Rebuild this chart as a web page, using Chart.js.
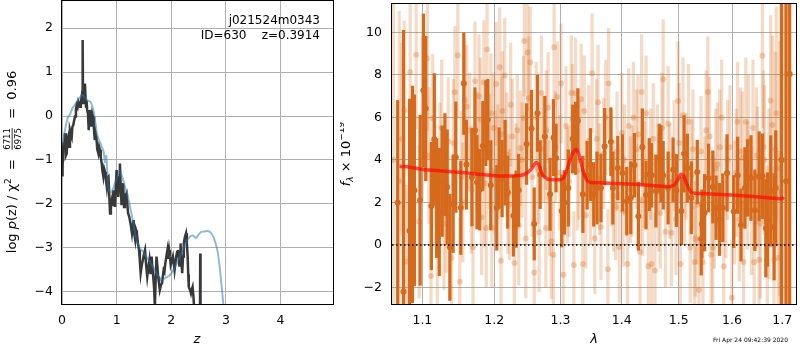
<!DOCTYPE html>
<html>
<head>
<meta charset="utf-8">
<script src="https://cdn.jsdelivr.net/npm/chart.js@4.4.1/dist/chart.umd.min.js"></script>
<style>
  html, body { margin: 0; padding: 0; background: #fff; }
  #wrap { position: relative; width: 800px; height: 350px; }
  #pz { position: absolute; left: 0; top: 0; }
  #spec { position: absolute; left: 340px; top: 0; }
</style>
</head>
<body>
<div id="wrap">
  <canvas id="pz" width="340" height="350"></canvas>
  <canvas id="spec" width="460" height="350"></canvas>
</div>
<script>
// ---- left panel: log p(z) ----
const zGrid = [0.00, 0.01, 0.025, 0.04, 0.055, 0.07, 0.086, 0.10, 0.115, 0.13,
  0.146, 0.162, 0.178, 0.19, 0.207, 0.222, 0.238, 0.255, 0.269, 0.285,
  0.30, 0.315, 0.33, 0.345, 0.36, 0.372, 0.378, 0.385, 0.397, 0.41,
  0.42, 0.43, 0.44, 0.45, 0.46, 0.475, 0.489, 0.50, 0.51, 0.525,
  0.54, 0.555, 0.57, 0.585, 0.60, 0.615, 0.63, 0.645, 0.665, 0.68,
  0.696, 0.71, 0.727, 0.74, 0.757, 0.772, 0.788, 0.805, 0.82, 0.835,
  0.85, 0.865, 0.88, 0.895, 0.91, 0.925, 0.94, 0.955, 0.97, 0.985,
  1.00, 1.015, 1.03, 1.045, 1.06, 1.075, 1.09, 1.105, 1.12, 1.135,
  1.15, 1.165, 1.18, 1.195, 1.21, 1.23, 1.255, 1.28, 1.295, 1.31,
  1.325, 1.34, 1.355, 1.37, 1.39, 1.41, 1.425, 1.44, 1.46, 1.48,
  1.50, 1.52, 1.54, 1.56, 1.58, 1.60, 1.62, 1.64, 1.655, 1.67,
  1.685, 1.70, 1.715, 1.73, 1.745, 1.76, 1.775, 1.79, 1.81, 1.83,
  1.845, 1.86, 1.875, 1.89, 1.91, 1.93, 1.945, 1.96, 1.975, 1.99,
  2.01, 2.03, 2.045, 2.06, 2.075, 2.09, 2.105, 2.12, 2.135, 2.15,
  2.16, 2.17, 2.185, 2.20, 2.215, 2.23, 2.25, 2.27, 2.285, 2.30,
  2.31, 2.32, 2.34, 2.36, 2.375, 2.39, 2.405, 2.42, 2.45, 2.48,
  2.51, 2.525, 2.53, 2.535, 2.55];
const logPz = [-1.35, -1.19, -0.6, -0.77, -0.39, -0.9, -0.85, -0.55, -0.47, -0.7,
  -0.32, -0.4, -0.47, -0.25, -0.2, -0.1, -0.01, 0.15, 0.25, 0.2,
  0.33, 0.28, 0.21, 0.3, 0.44, 0.35, 1.73, 0.3, 0.36, 0.55,
  0.74, 0.45, 0.21, 0.35, 0.14, 0.05, -0.32, -0.05, 0.14, -0.1,
  -0.24, 0.05, -0.02, -0.3, -0.55, -0.4, -0.5, -0.75, -0.85, -0.7,
  -0.77, -0.95, -1.08, -1.25, -1.38, -1.2, -1.27, -1.45, -1.61, -1.4,
  -1.38, -1.8, -2.22, -2.0, -1.91, -2.05, -1.69, -1.9, -2.07, -1.6,
  -1.23, -1.6, -1.84, -1.4, -1.08, -1.6, -2.03, -1.7, -1.53, -2.07,
  -1.99, -1.8, -1.76, -2.0, -2.22, -2.29, -2.45, -2.67, -2.5, -2.37,
  -2.7, -2.82, -2.6, -2.67, -2.9, -3.05, -3.3, -3.58, -3.4, -3.28,
  -3.15, -3.05, -3.4, -3.66, -3.45, -3.28, -3.6, -3.2, -3.45, -3.66,
  -3.9, -4.35, -3.7, -3.2, -3.4, -3.66, -3.8, -3.96, -3.85, -3.81,
  -3.65, -3.51, -3.55, -3.36, -3.2, -3.05, -3.25, -3.05, -3.2, -3.39,
  -3.3, -3.2, -3.35, -3.51, -3.35, -3.2, -3.1, -3.05, -3.2, -3.43,
  -3.1, -2.9, -3.3, -3.58, -3.2, -2.9, -2.75, -2.67, -2.9, -3.2,
  -3.6, -3.89, -3.95, -4.04, -3.95, -3.89, -4.1, -4.4, -4.6, -4.6,
  -4.6, -4.5, -3.13, -4.5, -4.6];

const zFit = [0, 0.05, 0.1, 0.15, 0.2, 0.25, 0.3, 0.35, 0.38, 0.42,
  0.47, 0.52, 0.56, 0.6, 0.64, 0.68, 0.72, 0.76, 0.785, 0.81,
  0.83, 0.85, 0.87, 0.905, 0.95, 1.0, 1.05, 1.1, 1.15, 1.2,
  1.25, 1.3, 1.36, 1.42, 1.48, 1.54, 1.6, 1.67, 1.74, 1.82,
  1.9, 1.97, 2.04, 2.1, 2.16, 2.22, 2.28, 2.34, 2.4, 2.45,
  2.5, 2.55, 2.6, 2.65, 2.7, 2.75, 2.8, 2.85, 2.9, 2.95, 3.0];
const logPzFit = [-0.68, -0.35, -0.05, 0.05, 0.2, 0.28, 0.38, 0.46, 0.48, 0.42,
  0.35, 0.33, 0.2, -0.05, -0.4, -0.55, -0.68, -0.8, -1.05, -0.9,
  -1.3, -1.65, -1.72, -1.73, -1.6, -1.42, -1.25, -1.38, -1.6, -1.8,
  -2.1, -2.4, -2.8, -3.0, -3.08, -3.2, -3.3, -3.45, -3.6, -3.74,
  -3.68, -3.63, -3.5, -3.36, -3.2, -3.02, -2.85, -2.75, -2.72, -2.78,
  -2.7, -2.64, -2.63, -2.62, -2.63, -2.7, -2.85, -3.1, -3.6, -4.25, -4.9];

const zTicks = [0, 1, 2, 3, 4];
const pzTicks = [-4, -3, -2, -1, 0, 1, 2];

// ---- right panel: spectrum ----
const darkLam = [1.0676, 1.0752, 1.0830, 1.0869, 1.0895, 1.0970, 1.1013, 1.1045, 1.1120, 1.1160,
  1.1192, 1.1227, 1.1267, 1.1304, 1.1335, 1.1372, 1.1417, 1.1454, 1.1523, 1.1565,
  1.1602, 1.1680, 1.1722, 1.1751, 1.1789, 1.1835, 1.1878, 1.1906, 1.1949, 1.2036,
  1.2071, 1.2114, 1.2158, 1.2196, 1.2280, 1.2320, 1.2358, 1.2478, 1.2553, 1.2594,
  1.2644, 1.2685, 1.2757, 1.2838, 1.2890, 1.2931, 1.3020, 1.3062, 1.3124, 1.3194,
  1.3241, 1.3277, 1.3357, 1.3426, 1.3481, 1.3534, 1.3588, 1.3653, 1.3714, 1.3818,
  1.3851, 1.3934, 1.4013, 1.4086, 1.4154, 1.4217, 1.4285, 1.4354, 1.4418, 1.4475,
  1.4515, 1.4592, 1.4650, 1.4680, 1.4721, 1.4809, 1.4898, 1.4957, 1.5048, 1.5097,
  1.5157, 1.5230, 1.5340, 1.5414, 1.5427, 1.5477, 1.5551, 1.5632, 1.5694, 1.5758,
  1.5821, 1.5903, 1.6032, 1.6109, 1.6174, 1.6251, 1.6305, 1.6370, 1.6448, 1.6534,
  1.6601, 1.6667, 1.6700, 1.6767, 1.6835, 1.6869, 1.6985, 1.7080, 1.7155];
const darkFlux = [2.0, -2.2, 0.67, 2.38, 2.57, 2.1, 7.27, 6.42, 1.83, 4.97,
  2.2, 1.55, 3.0, 3.78, 2.72, -0.11, 1.94, 4.13, 1.75, 7.6,
  3.78, 3.19, 5.4, 2.95, 2.6, 4.66, 5.73, 5.9, 2.81, 1.75,
  3.62, 3.12, 3.87, 2.48, 1.37, 1.68, 2.57, 4.75, 5.48, 0.99,
  6.2, 3.31, 5.1, 2.38, 5.05, 4.09, 1.6, 2.0, 2.68, 4.99,
  5.02, 5.86, 2.38, 3.28, 3.78, 2.38, 2.68, 2.68, 4.63, 4.86,
  2.68, 3.62, 3.39, 2.06, 2.22, 3.75, 1.35, 4.61, 2.35, 3.31,
  3.28, 2.54, 4.09, 3.82, 3.28, 2.68, 3.54, 2.56, 1.6, 4.29,
  3.62, 2.22, 3.43, 0.28, 0.99, 1.52, 3.15, 2.73, 1.75, 1.2,
  1.75, 3.39, 1.57, 3.28, 0.94, 2.68, 3.15, 3.15, 1.63, 3.23,
  3.23, 0.79, 1.2, 2.54, 0.85, 2.68, 4.0, 3.0, 8.05];
const darkErr = [4.8, 12.3, 6.2, 5.1, 4.5, 4.0, 3.6, 3.4, 3.0, 3.1,
  2.8, 3.0, 2.6, 2.4, 2.7, 2.5, 2.3, 2.6, 2.2, 2.4,
  2.1, 2.3, 2.0, 2.2, 1.9, 2.1, 2.0, 1.9, 2.1, 2.0,
  1.9, 1.8, 2.0, 1.7, 1.9, 1.8, 1.7, 1.9, 1.8, 1.7,
  1.8, 1.6, 1.9, 1.7, 1.8, 1.6, 1.7, 1.5, 1.8, 1.6,
  1.7, 1.5, 1.8, 1.6, 1.7, 1.5, 1.7, 1.6, 1.8, 1.6,
  1.7, 1.5, 1.8, 1.6, 1.7, 1.5, 1.6, 1.8, 1.6, 1.7,
  1.5, 1.7, 1.6, 1.8, 1.6, 1.7, 1.5, 1.7, 1.6, 1.8,
  1.6, 1.7, 1.5, 1.7, 1.6, 1.8, 1.6, 1.7, 1.5, 1.7,
  1.6, 1.8, 1.7, 1.8, 1.7, 1.9, 1.8, 2.0, 1.9, 2.1,
  2.0, 2.3, 2.2, 2.6, 2.5, 2.7, 12, 12, 12];

const lightLam = [1.0620, 1.0696, 1.0761, 1.0787, 1.0839, 1.0918, 1.0957, 1.1066, 1.1088, 1.1115,
  1.1138, 1.1200, 1.1236, 1.1290, 1.1349, 1.1395, 1.1441, 1.1482, 1.1509, 1.1551,
  1.1606, 1.1648, 1.1695, 1.1723, 1.1779, 1.1817, 1.1850, 1.1884, 1.1896, 1.1931,
  1.1964, 1.1989, 1.2027, 1.2053, 1.2079, 1.2097, 1.2119, 1.2152, 1.2182, 1.2221,
  1.2265, 1.2295, 1.2339, 1.2384, 1.2433, 1.2444, 1.2466, 1.2493, 1.2533, 1.2563,
  1.2594, 1.2624, 1.2669, 1.2704, 1.2738, 1.2772, 1.2807, 1.2858, 1.2889, 1.2900,
  1.2951, 1.2993, 1.3045, 1.3087, 1.3134, 1.3171, 1.3213, 1.3240, 1.3293, 1.3330,
  1.3357, 1.3405, 1.3453, 1.3507, 1.3551, 1.3605, 1.3654, 1.3698, 1.3768, 1.3780,
  1.3830, 1.3897, 1.3959, 1.4002, 1.4048, 1.4098, 1.4149, 1.4200, 1.4251, 1.4314,
  1.4342, 1.4389, 1.4458, 1.4516, 1.4546, 1.4575, 1.4616, 1.4668, 1.4721, 1.4762,
  1.4809, 1.4868, 1.4916, 1.4988, 1.5030, 1.5078, 1.5133, 1.5211, 1.5261, 1.5292,
  1.5303, 1.5371, 1.5445, 1.5507, 1.5538, 1.5600, 1.5632, 1.5688, 1.5763, 1.5839,
  1.5915, 1.5998, 1.6049, 1.6107, 1.6166, 1.6224, 1.6269, 1.6322, 1.6381, 1.6434,
  1.6479, 1.6533, 1.6599, 1.6639, 1.6698, 1.6765, 1.6799, 1.6834, 1.6860, 1.6921,
  1.6982, 1.7040,
  1.0730, 1.0880, 1.1000, 1.1170, 1.1260, 1.1320, 1.1420, 1.1530, 1.1580, 1.1670,
  1.1750, 1.1800, 1.1860, 1.1950, 1.2010, 1.2110, 1.2200, 1.2240, 1.2320, 1.2360,
  1.2410, 1.2510, 1.2650, 1.2780, 1.2830, 1.2920, 1.3010, 1.3110, 1.3190, 1.3270,
  1.3380, 1.3480, 1.3580, 1.3630, 1.3730, 1.3860, 1.3920, 1.4025, 1.4120, 1.4175,
  1.4280, 1.4360, 1.4420, 1.4500, 1.4640, 1.4700, 1.4840, 1.4950, 1.5010, 1.5110,
  1.5180, 1.5240, 1.5340, 1.5410, 1.5480, 1.5570, 1.5660, 1.5720, 1.5800, 1.5880,
  1.5960, 1.6080, 1.6140, 1.6200, 1.6300, 1.6410, 1.6500, 1.6560, 1.6620, 1.6730,
  1.6880, 1.6950];
const lightFlux = [4.0, 3.0, 6.34, -0.78, 8.13, 8.95, 1.1, 8.78, 4.2, -1.46,
  5.96, -0.08, 3.78, 1.0, 4.87, -0.6, 7.19, 8.93, -1.73, 2.0,
  6.5, 5.4, -0.11, 7.7, 7.0, 1.3, 7.66, 0.8, 9.2, 4.4,
  0.8, 5.5, 7.58, 3.9, 8.36, -0.75, 6.3, 7.97, 4.26, 1.9,
  5.1, -0.85, 5.4, 4.55, 5.98, 9.6, 0.3, 9.06, 8.6, 3.2,
  -1.3, 6.0, 0.6, 7.15, 4.5, 0.8, 6.46, 0.17, -0.46, 9.3,
  6.96, 3.4, -1.4, 5.6, 3.0, 7.15, -0.94, 7.14, 4.0, 6.86,
  -0.9, 1.4, 4.9, 8.08, 0.3, 6.71, 0.85, 4.3, -1.15, 7.6,
  3.6, 1.8, -0.1, 5.28, 4.0, -0.9, 2.6, 6.0, 4.5, -0.32,
  7.2, 3.3, -1.0, -0.9, 5.0, -1.2, 4.1, 1.5, 7.8, 0.62,
  5.7, 0.57, 4.2, 6.77, -0.9, 6.1, 3.7, -0.12, 4.5, -0.8,
  0.28, -2.12, -0.8, 5.4, 7.2, -0.46, -0.12, 3.6, 4.6, -1.0,
  4.0, -2.48, 2.0, 5.8, 4.4, -0.8, 5.8, 4.9, 1.6, -0.8,
  4.2, -0.7, 8.9, 4.0, 0.12, 6.8, 5.64, -0.7, 4.48, -0.6,
  2.5, 4.0,
  5.0, 2.5, 6.0, 3.5, 5.5, 2.0, 4.8, 3.2, 6.8, 2.6,
  4.4, 5.9, 2.9, 6.2, 3.4, 5.2, 2.4, 6.6, 3.0, 0.9,
  4.0, 6.9, 3.6, 5.4, 2.2, 4.6, 7.6, 2.8, 5.9, 3.5,
  6.3, 2.7, 5.0, 3.1, 6.0, 2.3, 4.4, 1.6, 5.6, 3.0,
  5.2, 2.1, 6.2, 3.8, 2.5, 5.5, 3.0, 1.2, 4.8, 2.6,
  5.8, 3.3, 1.9, 4.4, 2.4, 5.1, 1.5, 3.8, 6.0, 2.2,
  4.6, 3.4, 1.2, 4.1, 2.8, 5.5, 3.2, 1.0, 4.6, 2.4,
  6.2, 3.6];
const lightErr = [9.0, 8.0, 4.2, 3.6, 4.0, 3.5, 3.6, 3.4, 3.2, 3.1,
  3.0, 3.2, 2.9, 3.1, 3.0, 2.8, 3.1, 2.9, 3.0, 2.8,
  2.9, 2.7, 3.0, 2.8, 2.9, 2.7, 2.9, 2.8, 3.0, 2.7,
  2.8, 2.6, 2.9, 2.7, 2.8, 2.6, 2.8, 2.7, 2.9, 2.6,
  2.7, 2.8, 2.6, 2.7, 2.9, 2.6, 2.8, 2.7, 2.6, 2.8,
  2.7, 2.6, 2.8, 2.7, 2.5, 2.8, 2.6, 2.7, 2.5, 2.8,
  2.6, 2.7, 2.5, 2.8, 2.6, 2.7, 2.5, 2.6, 2.8, 2.6,
  2.7, 2.5, 2.6, 2.8, 2.6, 2.7, 2.5, 2.6, 2.8, 2.6,
  2.7, 2.5, 2.6, 2.8, 2.6, 2.7, 2.5, 2.6, 2.8, 2.6,
  2.7, 2.5, 2.6, 2.8, 2.6, 2.7, 2.5, 2.6, 2.8, 2.6,
  2.7, 2.5, 2.6, 2.8, 2.6, 2.7, 2.5, 2.6, 2.8, 2.6,
  2.7, 2.5, 2.6, 2.8, 2.6, 2.7, 2.6, 2.8, 2.7, 2.9,
  2.8, 2.7, 2.9, 2.8, 3.0, 2.9, 3.0, 3.1, 3.0, 3.2,
  3.2, 3.3, 3.4, 3.5, 3.6, 4.0, 4.2, 4.4, 4.6, 5.0,
  9.0, 10.0,
  4.5, 4.0, 3.8, 3.4, 3.2, 3.3, 3.0, 3.1, 2.9, 3.0,
  2.8, 2.9, 3.0, 2.8, 2.9, 2.7, 2.8, 2.9, 2.7, 2.8,
  2.7, 2.9, 2.6, 2.8, 2.7, 2.6, 2.8, 2.7, 2.6, 2.8,
  2.6, 2.7, 2.8, 2.6, 2.7, 2.6, 2.8, 2.6, 2.7, 2.6,
  2.8, 2.6, 2.7, 2.6, 2.8, 2.6, 2.7, 2.6, 2.8, 2.6,
  2.7, 2.6, 2.8, 2.6, 2.7, 2.8, 2.6, 2.9, 2.7, 2.8,
  2.9, 3.0, 2.9, 3.1, 3.0, 3.2, 3.3, 3.5, 3.6, 4.0,
  5.0, 6.0];

const modelLam = [1.07, 1.08, 1.10, 1.12, 1.15, 1.18, 1.20, 1.22, 1.24, 1.25,
  1.257, 1.262, 1.267, 1.272, 1.28, 1.29, 1.30, 1.306, 1.313, 1.319,
  1.325, 1.33, 1.336, 1.342, 1.348, 1.36, 1.40, 1.44, 1.48, 1.492,
  1.499, 1.504, 1.509, 1.515, 1.522, 1.53, 1.56, 1.60, 1.64, 1.68,
  1.70, 1.703];
const modelFlux = [3.7, 3.68, 3.55, 3.5, 3.42, 3.32, 3.26, 3.24, 3.28, 3.42,
  3.65, 3.88, 3.75, 3.3, 3.1, 3.07, 3.07, 3.2, 3.8, 4.3,
  4.5, 4.2, 3.5, 3.05, 2.95, 2.93, 2.88, 2.82, 2.74, 2.82,
  3.1, 3.33, 3.25, 2.85, 2.5, 2.43, 2.4, 2.35, 2.28, 2.2,
  2.17, 2.25];

const zeroLam = [1.0603, 1.7287];
const zeroFlux = [0, 0];

const lamTicks = [1.1, 1.2, 1.3, 1.4, 1.5, 1.6, 1.7];
const fluxTicks = [-2, 0, 2, 4, 6, 8, 10];

Chart.defaults.font.family = '"DejaVu Sans", sans-serif';
Chart.defaults.color = '#000';

const FONT = '"DejaVu Sans"';
const gridColor = '#b0b0b0';
const orange = 'rgb(214,106,28)';
const orangeLight = 'rgba(214,106,28,0.25)';
const orangeDot = 'rgba(214,106,28,0.3)';

const minus = v => (v < 0 ? '\u2212' + Math.abs(v) : String(v));
const pairs = (xs, ys) => xs.map((x, i) => ({ x: x, y: ys[i] }));
const bars = (xs, ys, es) => xs.map((x, i) => ({ x: x, y: [ys[i] - es[i], ys[i] + es[i]] }));

// scale sizes are pinned so the plot boxes land where the reference has them
const fixX = s => { s.height = 46; s.paddingLeft = 0; s.paddingRight = 0; };
const fixY = w => s => { s.width = w; s.paddingTop = 0; s.paddingBottom = 0; };

// black box round the plot area
const frame = {
  id: 'frame',
  afterDraw(chart) {
    const { ctx, chartArea: a } = chart;
    ctx.save();
    ctx.strokeStyle = '#000';
    ctx.lineWidth = 1;
    ctx.strokeRect(Math.round(a.left) - 0.5, Math.round(a.top) - 0.5,
      Math.round(a.right - a.left) + 1, Math.round(a.bottom - a.top) + 1);
    ctx.restore();
  }
};

// draws a list of text pieces along one line, centred on (x, y), rotated
function drawRuns(ctx, runs, x, y, angle) {
  ctx.save();
  ctx.translate(x, y);
  ctx.rotate(angle);
  ctx.textAlign = 'left';
  ctx.textBaseline = 'alphabetic';
  ctx.fillStyle = '#000';
  let total = 0;
  const widths = runs.map(r => {
    ctx.font = r.font;
    const w = r.frac
      ? Math.max(ctx.measureText(r.frac[0]).width, ctx.measureText(r.frac[1]).width) + 2
      : ctx.measureText(r.text).width;
    total += w;
    return w;
  });
  let pos = -total / 2;
  runs.forEach((r, i) => {
    ctx.font = r.font;
    if (r.frac) {
      const w = widths[i];
      ctx.textAlign = 'center';
      ctx.fillText(r.frac[0], pos + w / 2, -6);
      ctx.fillText(r.frac[1], pos + w / 2, 5);
      ctx.fillRect(pos + 1, -4.3, w - 2, 0.8);
      ctx.textAlign = 'left';
    } else {
      ctx.fillText(r.text, pos, r.dy || 0);
    }
    pos += widths[i];
  });
  ctx.restore();
}

const pzText = {
  id: 'pzText',
  afterDraw(chart) {
    const c = chart.ctx;
    c.save();
    c.fillStyle = '#000';
    c.font = '12px ' + FONT;
    c.textAlign = 'right';
    c.textBaseline = 'middle';
    c.fillText('j021524m0343', 320, 21);
    c.fillText('ID=630    z=0.3914', 320, 36);
    c.textAlign = 'center';
    c.font = 'italic 13px ' + FONT;
    c.fillText('z', 197, 340);
    c.restore();
    drawRuns(c, [
      { text: 'log ', font: '13px ' + FONT },
      { text: 'p', font: 'italic 13px ' + FONT },
      { text: '(z) / \u03c7', font: '13px ' + FONT },
      { text: '2', font: '9px ' + FONT, dy: -5 },
      { text: '  =  ', font: '13px ' + FONT },
      { frac: ['6711', '6975'], font: '8.5px ' + FONT },
      { text: '  =  0.96', font: '13px ' + FONT }
    ], 16, 162, -Math.PI / 2);
  }
};

new Chart(document.getElementById('pz'), {
  type: 'line',
  data: {
    datasets: [
      { data: pairs(zGrid, logPz), borderColor: 'rgba(40,40,40,0.92)', borderWidth: 2.5,
        pointRadius: 0, tension: 0, order: 1 },
      { data: pairs(zFit, logPzFit), borderColor: 'rgba(31,119,180,0.5)', borderWidth: 2,
        pointRadius: 0, tension: 0.2, order: 0 }
    ]
  },
  options: {
    responsive: false,
    animation: false,
    layout: { padding: { top: 1, right: 7, left: 0, bottom: 0 } },
    plugins: { legend: { display: false }, tooltip: { enabled: false } },
    scales: {
      x: {
        type: 'linear', min: 0, max: 4.96,
        afterFit: fixX,
        afterBuildTicks: s => { s.ticks = zTicks.map(v => ({ value: v })); },
        grid: { color: gridColor, drawTicks: false },
        border: { display: false },
        ticks: { padding: 9, color: '#000', font: { size: 12.5 }, callback: v => minus(v) }
      },
      y: {
        type: 'linear', min: -4.28, max: 2.62,
        afterFit: fixY(62),
        afterBuildTicks: s => { s.ticks = pzTicks.map(v => ({ value: v })); },
        grid: { color: gridColor, drawTicks: false },
        border: { display: false },
        ticks: { padding: 9, color: '#000', font: { size: 12.5 }, callback: v => minus(v) }
      }
    }
  },
  plugins: [frame, pzText]
});

const specText = {
  id: 'specText',
  afterDraw(chart) {
    const c = chart.ctx;
    c.save();
    c.fillStyle = '#000';
    c.textAlign = 'center';
    c.textBaseline = 'middle';
    c.font = 'italic 13px ' + FONT;
    c.fillText('\u03bb', 254, 340);
    c.font = '6px ' + FONT;
    c.textAlign = 'right';
    c.fillText('Fri Apr 24 09:42:39 2020', 448, 340);
    c.restore();
    drawRuns(c, [
      { text: 'f', font: 'italic 13px ' + FONT },
      { text: '\u03bb', font: 'italic 9px ' + FONT, dy: 3 },
      { text: ' \u00d7 10', font: '13px ' + FONT },
      { text: '\u221219', font: '9px ' + FONT, dy: -6 }
    ], 10, 154, -Math.PI / 2);
  }
};

new Chart(document.getElementById('spec'), {
  type: 'bar',
  data: {
    datasets: [
      { type: 'line', data: pairs(modelLam, modelFlux), borderColor: 'rgba(255,10,0,0.7)',
        borderWidth: 3.5, pointRadius: 0, tension: 0.2, order: 0 },
      { type: 'line', data: pairs(zeroLam, zeroFlux), borderColor: '#000', borderWidth: 1.5,
        borderDash: [1.5, 2.5], pointRadius: 0, order: 1 },
      { type: 'line', data: pairs(darkLam, darkFlux), showLine: false, pointRadius: 3,
        pointBackgroundColor: orange, pointBorderWidth: 0, order: 2 },
      { type: 'bar', data: bars(darkLam, darkFlux, darkErr), backgroundColor: orange,
        barThickness: 2.6, grouped: false, borderWidth: 0, order: 3 },
      { type: 'line', data: pairs(lightLam, lightFlux), showLine: false, pointRadius: 3,
        pointBackgroundColor: orangeDot, pointBorderWidth: 0, order: 4 },
      { type: 'bar', data: bars(lightLam, lightFlux, lightErr), backgroundColor: orangeLight,
        barThickness: 2.6, grouped: false, borderWidth: 0, order: 5 }
    ]
  },
  options: {
    responsive: false,
    animation: false,
    layout: { padding: { top: 1, right: 1, left: 0, bottom: 0 } },
    plugins: { legend: { display: false }, tooltip: { enabled: false } },
    scales: {
      x: {
        type: 'logarithmic', min: 1.0603, max: 1.7287, offset: false,
        afterFit: fixX,
        afterBuildTicks: s => { s.ticks = lamTicks.map(v => ({ value: v })); },
        grid: { color: gridColor, drawTicks: false, offset: false },
        border: { display: false },
        ticks: { padding: 9, color: '#000', font: { size: 12.5 }, autoSkip: false, maxRotation: 0,
          callback: v => Number(v).toFixed(1) }
      },
      y: {
        type: 'linear', min: -2.78, max: 11.34,
        afterFit: fixY(52),
        afterBuildTicks: s => { s.ticks = fluxTicks.map(v => ({ value: v })); },
        grid: { color: gridColor, drawTicks: false },
        border: { display: false },
        ticks: { padding: 10, color: '#000', font: { size: 12.5 }, callback: v => minus(v) }
      }
    }
  },
  plugins: [frame, specText]
});
</script>
</body>
</html>
